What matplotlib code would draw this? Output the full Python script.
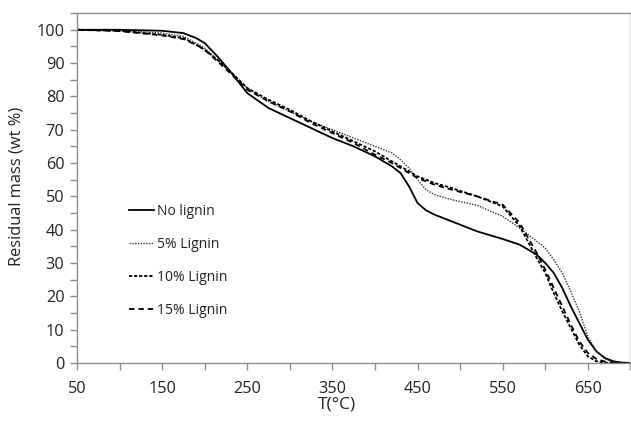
import matplotlib
matplotlib.use("Agg")
import matplotlib.pyplot as plt
from matplotlib.ticker import MultipleLocator, FixedLocator

plt.rcParams['font.family'] = ['Open Sans', 'DejaVu Sans']

temps = [50, 100, 150, 175, 190, 200, 215, 230, 250, 275, 300, 325, 350, 375, 400,
         420, 430, 440, 450, 460, 470, 490, 520, 550, 570, 590, 600, 610, 620, 630,
         640, 650, 660, 670, 680, 690, 700]

no_lignin = [100, 100, 99.7, 99, 97.5, 96, 92, 87.5, 81, 76.5, 73.5, 70.5, 67.5, 65, 62,
             59, 57, 53, 48, 45.8, 44.5, 42.5, 39.5, 37.2, 35.5, 32.5, 30, 27, 22.5, 17,
             12, 7, 3.5, 1.5, 0.5, 0.1, 0]

lignin5 = [100, 99.8, 99, 98, 96, 94.5, 91, 87.5, 82.5, 78.5, 75.5, 72.5, 70, 67.5, 65,
           63, 61, 58.5, 55, 52, 50.5, 49, 47.3, 44, 40.5, 36.5, 34.5, 31, 27, 21.5,
           15.5, 8, 3.5, 1.2, 0.3, 0, 0]

lignin10 = [100, 99.7, 98.5, 97.5, 95.5, 94, 91, 87.5, 82.5, 79, 76, 72.5, 69.5, 66.5, 63.5,
            60.5, 59, 57.5, 56, 55, 54, 52.5, 50, 47, 41, 31.5, 27, 21, 15.5, 10.5,
            5.5, 2, 0.5, 0.1, 0, 0, 0]

lignin15 = [100, 99.6, 98.3, 97.2, 95.5, 94, 90.5, 87, 82, 78.5, 75.5, 72, 69, 66, 62.5,
            60, 58.5, 57, 55.5, 54.5, 53.5, 52, 50, 47.5, 42, 33, 28, 22.5, 17, 11.5,
            6.5, 3, 1.2, 0.4, 0.1, 0, 0]

labels = ["No lignin", "5% Lignin", "10% Lignin", "15% Lignin"]
x_ticks = [50, 150, 250, 350, 450, 550, 650]

fig = plt.figure(figsize=(6.31, 4.23), dpi=100)
ax = fig.add_axes([0.122, 0.142, 0.877, 0.827])

ax.plot(temps, no_lignin, color='black', lw=1.3, linestyle='-', label=labels[0])
ax.plot(temps, lignin5, color='#333333', lw=1.0, linestyle=(0, (1, 1)), label=labels[1])
ax.plot(temps, lignin10, color='black', lw=1.3, linestyle=(0, (1.8, 1.0)), label=labels[2])
ax.plot(temps, lignin15, color='black', lw=1.3, linestyle=(0, (3.0, 2.2)), label=labels[3])

ax.set_xlim(50, 700)
ax.set_ylim(0, 105)
ax.xaxis.set_major_locator(FixedLocator(x_ticks))
ax.xaxis.set_minor_locator(MultipleLocator(50))
ax.yaxis.set_major_locator(FixedLocator(list(range(0, 101, 10))))
ax.yaxis.set_minor_locator(MultipleLocator(5))

for s in ax.spines.values():
    s.set_color('#8c8c8c')
    s.set_linewidth(1.0)
ax.spines['right'].set_color('#e0e0e0')

ax.tick_params(axis='both', which='both', direction='out', color='#8c8c8c', width=1.0,
               labelsize=11.7, labelcolor='#222222')
ax.tick_params(axis='both', which='both', length=5)
ax.tick_params(axis='x', pad=8)
ax.tick_params(axis='y', pad=4)

ax.set_xlabel("T(°C)", fontsize=12.5, color='#222222')
ax.set_ylabel("Residual mass (wt %)", fontsize=11.8, color='#222222')
ax.xaxis.set_label_coords(0.469, -0.097)
ax.yaxis.set_label_coords(-0.094, 0.505)

leg = ax.legend(loc='upper left', bbox_to_anchor=(0.094, 0.455), frameon=False,
                handlelength=1.8, handletextpad=0.2, labelspacing=1.3,
                fontsize=10, borderpad=0, borderaxespad=0)
for t in leg.get_texts():
    t.set_color('#222222')

fig.savefig("out.png", dpi=100)
